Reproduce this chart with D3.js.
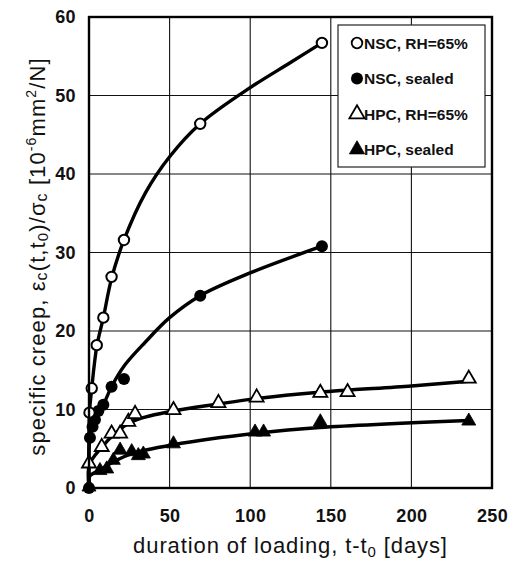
<!DOCTYPE html>
<html>
<head>
<meta charset="utf-8">
<script src="https://cdn.jsdelivr.net/npm/d3@7"></script>
<style>
  html, body { margin: 0; padding: 0; background: #fff; }
  svg { display: block; font-family: "Liberation Sans", Arial, sans-serif; }
</style>
</head>
<body>
<svg id="chart" width="511" height="564"></svg>
<script>
// Axis ticks
const xTicks = [0, 50, 100, 150, 200, 250];
const yTicks = [0, 10, 20, 30, 40, 50, 60];

// Measured specific creep (t - t0 in days, creep in 10^-6 mm²/N)
const nscRhT = [0.3, 1.7, 4.8, 8.9, 14, 21.7, 69, 144.5];
const nscRhY = [9.6, 12.7, 18.2, 21.7, 26.9, 31.6, 46.4, 56.7];

const nscSealT = [0, 0.6, 2.2, 3.7, 5.8, 8.9, 14, 21.7, 69, 144.5];
const nscSealY = [0, 6.4, 7.8, 8.7, 9.8, 10.6, 12.9, 13.9, 24.5, 30.8];

const hpcRhT = [0, 7.9, 14, 19.3, 24.4, 28.6, 52.4, 80.3, 104, 143.5, 160.4, 235.6];
const hpcRhY = [3.0, 5.1, 6.8, 6.8, 8.3, 9.3, 9.8, 10.7, 11.4, 12.0, 12.1, 13.8];

const hpcSealT = [0, 6.8, 11, 15.1, 19.3, 26.5, 30.6, 33.7, 52.4, 103, 108.3, 143.5, 235.6];
const hpcSealY = [0, 2.1, 2.3, 3.4, 4.7, 4.5, 4.0, 4.2, 5.5, 7.0, 7.0, 8.3, 8.4];

// Fitted creep curves
const nscRhFitT = [0, 0.3, 1.7, 4.8, 8.9, 14, 21.7, 35, 50, 69, 100, 125, 144.5];
const nscRhFitY = [0, 9.6, 12.7, 18.0, 21.7, 26.7, 31.6, 37.6, 42.2, 46.4, 51.0, 54.2, 56.7];

const nscSealFitT = [0, 0.6, 3.7, 8.9, 14, 22, 35, 50, 69, 100, 144.5];
const nscSealFitY = [0, 6.4, 8.7, 10.6, 12.9, 15.6, 18.6, 21.7, 24.5, 27.4, 30.8];

const hpcRhFitT = [0, 0.3, 8, 16, 27, 52, 80, 104, 143, 200, 235.6];
const hpcRhFitY = [0, 3.0, 5.2, 6.9, 8.5, 9.8, 10.7, 11.4, 12.2, 13.0, 13.6];

const hpcSealFitT = [0, 0.5, 7, 15, 27, 52, 105, 143, 235.6];
const hpcSealFitY = [0, 1.5, 2.3, 3.3, 4.4, 5.5, 7.0, 7.7, 8.6];

const seriesNames = ["NSC, RH=65%", "NSC, sealed", "HPC, RH=65%", "HPC, sealed"];

const svg = d3.select("#chart");
const margin = { left: 89, right: 19, top: 17, bottom: 76 };
const W = 511, H = 564;

const x = d3.scaleLinear().domain([0, 250]).range([margin.left, W - margin.right]);
const y = d3.scaleLinear().domain([0, 60]).range([H - margin.bottom, margin.top]);

// Grid
const grid = svg.append("g").attr("stroke", "#111").attr("stroke-width", 1.1);
grid.selectAll("line.gx").data(xTicks.slice(1, -1)).join("line")
  .attr("x1", d => x(d)).attr("x2", d => x(d))
  .attr("y1", y(0)).attr("y2", y(60));
grid.selectAll("line.gy").data(yTicks.slice(1, -1)).join("line")
  .attr("y1", d => y(d)).attr("y2", d => y(d))
  .attr("x1", x(0)).attr("x2", x(250));

// Axes (tick labels only)
const xAxis = svg.append("g").attr("transform", `translate(0,${y(0)})`)
  .call(d3.axisBottom(x).tickValues(xTicks).tickSize(0).tickPadding(21));
const yAxis = svg.append("g").attr("transform", `translate(${x(0)},0)`)
  .call(d3.axisLeft(y).tickValues(yTicks).tickSize(0).tickPadding(13));
[xAxis, yAxis].forEach(a => {
  a.select(".domain").remove();
  a.selectAll("text").attr("font-size", 18).attr("font-weight", "bold")
    .attr("letter-spacing", 0.4)
    .attr("font-family", "'Liberation Sans', Arial, sans-serif").attr("fill", "#111");
});

// Fit lines
const line = d3.line().x(d => x(d[0])).y(d => y(d[1])).curve(d3.curveCatmullRom.alpha(0.5));
const fits = [
  [nscRhFitT, nscRhFitY], [nscSealFitT, nscSealFitY],
  [hpcRhFitT, hpcRhFitY], [hpcSealFitT, hpcSealFitY]
];
fits.forEach(([ts, ys]) => {
  svg.append("path")
    .datum(ts.map((t, i) => [t, ys[i]]))
    .attr("d", line).attr("fill", "none")
    .attr("stroke", "#000").attr("stroke-width", 3.4)
    .attr("stroke-linejoin", "round");
});

// Markers
const tri = d3.symbol().type(d3.symbolTriangle).size(85);
function drawMarkers(ts, ys, kind, filled) {
  const pts = ts.map((t, i) => [t, ys[i]]);
  const g = svg.append("g");
  if (kind === "circle") {
    g.selectAll("circle").data(pts).join("circle")
      .attr("cx", d => x(d[0])).attr("cy", d => y(d[1]))
      .attr("r", filled ? 6 : 5.2)
      .attr("fill", filled ? "#000" : "#fff")
      .attr("stroke", "#000").attr("stroke-width", filled ? 0 : 2);
  } else {
    g.selectAll("path").data(pts).join("path")
      .attr("d", tri)
      .attr("transform", d => `translate(${x(d[0])},${y(d[1]) - 1})`)
      .attr("fill", filled ? "#000" : "#fff")
      .attr("stroke", "#000").attr("stroke-width", filled ? 0.8 : 1.8);
  }
}
drawMarkers(hpcSealT, hpcSealY, "tri", true);
drawMarkers(hpcRhT, hpcRhY, "tri", false);
drawMarkers(nscSealT, nscSealY, "circle", true);
drawMarkers(nscRhT, nscRhY, "circle", false);

// Frame
svg.append("rect")
  .attr("x", x(0)).attr("y", y(60))
  .attr("width", x(250) - x(0)).attr("height", y(0) - y(60))
  .attr("fill", "none").attr("stroke", "#000").attr("stroke-width", 2.4);

// Legend
const lg = svg.append("g");
lg.append("rect").attr("x", 338).attr("y", 25).attr("width", 147).attr("height", 142)
  .attr("fill", "#fff").attr("stroke", "#222").attr("stroke-width", 1.2);
const legendKinds = [["circle", false], ["circle", true], ["tri", false], ["tri", true]];
seriesNames.forEach((name, i) => {
  const cy = 43 + i * 35.5;
  const [kind, filled] = legendKinds[i];
  if (kind === "circle") {
    lg.append("circle").attr("cx", 357).attr("cy", cy).attr("r", filled ? 6 : 5.3)
      .attr("fill", filled ? "#000" : "#fff").attr("stroke", "#000")
      .attr("stroke-width", filled ? 0 : 1.8);
  } else {
    lg.append("path").attr("d", d3.symbol().type(d3.symbolTriangle).size(100))
      .attr("transform", `translate(357,${cy})`)
      .attr("fill", filled ? "#000" : "#fff").attr("stroke", "#000")
      .attr("stroke-width", filled ? 0.8 : 1.8);
  }
  lg.append("text").attr("x", 364).attr("y", cy + 5.5)
    .attr("font-size", 15.5).attr("font-weight", "bold").attr("fill", "#111")
    .text(name);
});

// Axis titles
const xt = svg.append("text")
  .attr("x", (x(0) + x(250)) / 2).attr("y", 553)
  .attr("text-anchor", "middle").attr("font-size", 22)
  .attr("letter-spacing", 0.9).attr("fill", "#111");
xt.append("tspan").text("duration of loading, t-t");
xt.append("tspan").attr("font-size", 15).attr("dy", 4).text("0");
xt.append("tspan").attr("dy", -4).text(" [days]");

const yt = svg.append("text")
  .attr("transform", `translate(45,${(y(0) + y(60)) / 2 + 4}) rotate(-90)`)
  .attr("text-anchor", "middle").attr("font-size", 22)
  .attr("letter-spacing", 1.1).attr("fill", "#111");
yt.append("tspan").text("specific creep, ε");
yt.append("tspan").attr("font-size", 16).attr("dy", 2).text("c");
yt.append("tspan").attr("dy", -2).text("(t,t");
yt.append("tspan").attr("font-size", 15).attr("dy", 3).text("0");
yt.append("tspan").attr("dy", -3).text(")/σ");
yt.append("tspan").attr("font-size", 16).attr("dy", 2).text("c");
yt.append("tspan").attr("dy", -2).text(" [10");
yt.append("tspan").attr("font-size", 14).attr("dy", -9).text("-6");
yt.append("tspan").attr("dy", 9).text("mm");
yt.append("tspan").attr("font-size", 14).attr("dy", -9).text("2");
yt.append("tspan").attr("dy", 9).text("/N]");
</script>
</body>
</html>
